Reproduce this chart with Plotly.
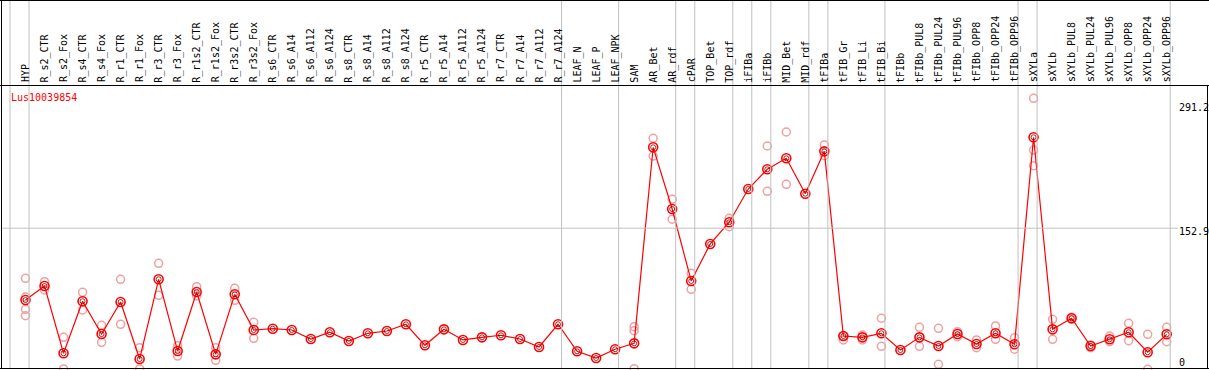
import plotly.graph_objects as go

title = "Lus10039854"

categories = [
    "HYP", "R_s2_CTR", "R_s2_Fox", "R_s4_CTR", "R_s4_Fox", "R_r1_CTR", "R_r1_Fox",
    "R_r3_CTR", "R_r3_Fox", "R_r1s2_CTR", "R_r1s2_Fox", "R_r3s2_CTR", "R_r3s2_Fox",
    "R_s6_CTR", "R_s6_A14", "R_s6_A112", "R_s6_A124", "R_s8_CTR", "R_s8_A14",
    "R_s8_A112", "R_s8_A124", "R_r5_CTR", "R_r5_A14", "R_r5_A112", "R_r5_A124",
    "R_r7_CTR", "R_r7_A14", "R_r7_A112", "R_r7_A124", "LEAF_N", "LEAF_P", "LEAF_NPK",
    "SAM", "AR_Bet", "AR_rdf", "cPAR", "TOP_Bet", "TOP_rdf", "iFIBa", "iFIBb",
    "MID_Bet", "MID_rdf", "tFIBa", "tFIB_Gr", "tFIB_Li", "tFIB_Bi", "tFIBb",
    "tFIBb_PUL8", "tFIBb_PUL24", "tFIBb_PUL96", "tFIBb_OPP8", "tFIBb_OPP24",
    "tFIBb_OPP96", "sXYLa", "sXYLb", "sXYLb_PUL8", "sXYLb_PUL24", "sXYLb_PUL96",
    "sXYLb_OPP8", "sXYLb_OPP24", "sXYLb_OPP96",
]

# group sizes (number of categories between the vertical separators)
group_sizes = [1, 28, 3, 3, 1, 2, 1, 1, 2, 1, 3, 7, 1, 7]

mean_values = [
    76.4, 91.3, 19.7, 75.1, 40.2, 74.3, 13.6, 98.5, 22.1, 85.0, 18.6, 82.5, 44.5,
    45.9, 44.5, 34.9, 42.1, 32.8, 41.0, 43.4, 50.6, 28.2, 45.2, 33.9, 36.7,
    38.9, 34.9, 26.4, 50.6, 21.8, 14.7, 24.0,
    30.3, 239.0, 173.3, 96.7, 136.1, 159.2, 194.6, 215.6,
    227.3, 189.6, 234.7, 38.1, 36.7, 41.0, 23.2,
    36.7, 27.5, 40.2, 29.6, 41.0, 29.3,
    249.7, 45.2, 57.0, 27.5, 34.6, 42.1, 20.8, 39.9,
]

replicates = [
    [99.5, 79.6, 66.5, 59.7], [95.9, 87.1], [36.7, 3.0], [84.6, 65.8], [49.5, 31.4],
    [98.5, 50.6], [25.7, 3.0], [115.5, 81.4], [27.8, 16.8], [90.6, 80.7],
    [25.7, 12.2], [88.9, 76.1], [52.7, 35.7],
    [], [], [], [], [], [], [], [], [], [], [], [], [], [], [], [], [], [], [],
    [48.0, 43.8, 3.3], [248.6, 229.7], [183.6, 162.4], [104.9, 87.8], [],
    [163.4, 154.5], [], [240.4, 192.2], [255.3, 199.6], [], [241.5, 230.1],
    [33.9, 38.1], [39.2, 33.9], [57.0, 27.1], [],
    [47.4, 27.1], [46.3, 8.0], [42.7, 37.4], [33.9, 25.7], [48.8, 34.6], [36.3, 24.0],
    [291.2, 236.1, 219.4], [55.9, 34.6], [58.0, 56.0], [28.5, 25.7], [38.1, 32.0],
    [51.6, 33.1], [39.9, 2.7], [47.4, 32.0],
]

y_tick_values = [291.2, 152.9, 0]
y_tick_labels = ["291.2", "152.9", "0"]

# ---------------------------------------------------------------------------
W, H = 1209, 370
FONT = "DejaVu Sans Mono"
x_idx = list(range(len(categories)))

rep_x, rep_y = [], []
for i, reps in enumerate(replicates):
    for r in reps:
        rep_x.append(i)
        rep_y.append(r)

fig = go.Figure()
fig.add_trace(go.Scatter(
    x=rep_x, y=rep_y, mode="markers", cliponaxis=False, hoverinfo="skip",
    marker=dict(symbol="circle-open", size=8, color="#f0a0a0", line=dict(width=1.5)),
))
fig.add_trace(go.Scatter(
    x=x_idx, y=mean_values, mode="lines", cliponaxis=False,
    line=dict(color="#ff0000", width=1.2),
))
fig.add_trace(go.Scatter(
    x=x_idx, y=mean_values, mode="markers", cliponaxis=False,
    marker=dict(symbol="circle-open", size=9, color="#ff0000", line=dict(width=1.6)),
))
fig.add_trace(go.Scatter(
    x=x_idx, y=mean_values, mode="markers", cliponaxis=False,
    marker=dict(symbol="circle-open", size=5, color="#7a0000", line=dict(width=0.8)),
))

# pixel mapping helpers
px_per_cat = 19.02
x0_px = 25.5
x_range = [-x0_px / px_per_cat, (W - x0_px) / px_per_cat]
zero_px = 371.8
px_per_unit = 0.9393
header_px = 85
y_range = [(zero_px - H) / px_per_unit, (zero_px - header_px) / px_per_unit]


def py(px):
    return (H - px) / H


shapes = []
# vertical group separators
boundaries = [-1 + 0.185]
acc = -1
for g in group_sizes:
    acc += g
    boundaries.append(acc + 0.185)
for b in boundaries:
    shapes.append(dict(type="line", xref="x", yref="paper", x0=b, x1=b, y0=py(369), y1=1,
                       line=dict(color="#c0c0c0", width=1)))
# horizontal grid line at middle tick
shapes.append(dict(type="line", xref="paper", yref="y", x0=1 / W, x1=1178 / W,
                   y0=y_tick_values[1], y1=y_tick_values[1],
                   line=dict(color="#c0c0c0", width=1)))
# frame lines
shapes += [
    dict(type="line", xref="paper", yref="paper", x0=0, x1=1, y0=py(0.5), y1=py(0.5),
         line=dict(color="black", width=1)),
    dict(type="line", xref="paper", yref="paper", x0=0, x1=1, y0=py(85.5), y1=py(85.5),
         line=dict(color="black", width=1)),
    dict(type="line", xref="paper", yref="paper", x0=0, x1=1, y0=py(368.5), y1=py(368.5),
         line=dict(color="black", width=1)),
    dict(type="line", xref="paper", yref="paper", x0=1.5 / W, x1=1.5 / W, y0=py(368.5), y1=1,
         line=dict(color="black", width=1)),
    dict(type="line", xref="paper", yref="paper", x0=1207.5 / W, x1=1207.5 / W, y0=py(368.5),
         y1=py(85.5), line=dict(color="black", width=1)),
]

annotations = []
for i, c in enumerate(categories):
    annotations.append(dict(
        x=i, y=py(84.5), xref="x", yref="paper", text=c, showarrow=False,
        textangle=-90, xanchor="center", yanchor="bottom",
        font=dict(family=FONT, size=10, color="black"),
    ))
annotations.append(dict(
    x=9 / W, y=py(97.7), xref="paper", yref="paper", text=title, showarrow=False,
    xanchor="left", yanchor="middle", font=dict(family=FONT, size=10, color="#ff0000"),
))
label_centers_px = [107, 231.7, 362.3]
for lab, cy in zip(y_tick_labels, label_centers_px):
    annotations.append(dict(
        x=1177 / W, y=py(cy), xref="paper", yref="paper", text=lab, showarrow=False,
        xanchor="left", yanchor="middle", font=dict(family=FONT, size=10, color="black"),
    ))

fig.update_layout(
    width=W, height=H, margin=dict(l=0, r=0, t=0, b=0),
    paper_bgcolor="white", plot_bgcolor="white", showlegend=False,
    xaxis=dict(range=x_range, visible=False, fixedrange=True),
    yaxis=dict(range=y_range, domain=[0, py(header_px)], visible=False, fixedrange=True),
    shapes=shapes, annotations=annotations,
)

fig.write_html(
    "out.html",
    config={"displayModeBar": False},
    post_script="document.body.style.margin='0px';document.body.style.overflow='hidden';",
)
